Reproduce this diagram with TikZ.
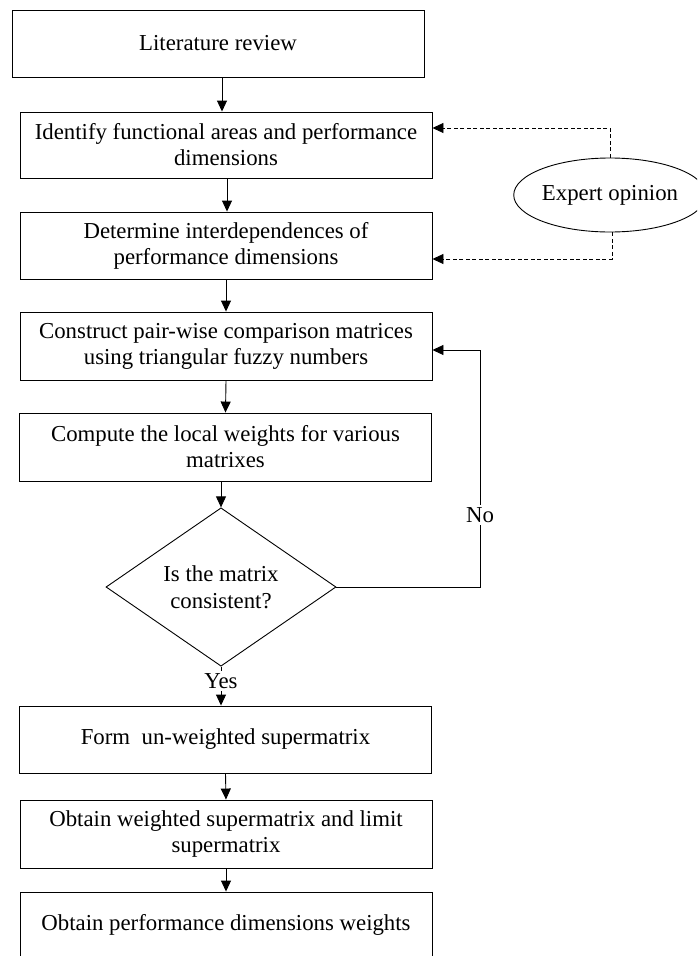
\documentclass[tikz,border=0pt]{standalone}
\usepackage{fontspec}
\setmainfont{Liberation Serif}
\usetikzlibrary{arrows.meta,shapes.geometric,calc}

\tikzset{
  stepbox/.style={draw, line width=0.9pt, minimum width=412pt, align=center,
    inner sep=0pt, font=\fontsize{22.8}{26}\selectfont},
  decision/.style={draw, line width=0.9pt, diamond, minimum width=230pt,
    minimum height=140pt, inner sep=0pt, align=center,
    font=\fontsize{22.8}{27}\selectfont},
  source/.style={draw, line width=0.9pt, ellipse, minimum width=176pt,
    minimum height=74pt, inner sep=0pt, font=\fontsize{22.8}{26}\selectfont},
  flow/.style={line width=0.9pt, -{Triangle[length=11pt,width=10pt]}},
  dflow/.style={flow, dash pattern=on 4pt off 2.5pt},
  lbl/.style={fill=white, inner sep=2pt, font=\fontsize{22.8}{26}\selectfont}
}

\begin{document}
\begin{tikzpicture}[x=1pt,y=-1pt]
  \useasboundingbox (0,0) rectangle (697,956);
  \clip (0,0) rectangle (697,956);

  % process steps
  \node[stepbox, minimum height=67pt] (b1) at (218,43.5) {Literature review};
  \node[stepbox, minimum height=66pt] (b2) at (226,145)
    {Identify functional areas and performance\\dimensions};
  \node[stepbox, minimum height=67pt] (b3) at (226,245.5)
    {Determine interdependences of\\performance dimensions};
  \node[stepbox, minimum height=68pt] (b4) at (226,346)
    {Construct pair-wise comparison matrices\\using triangular fuzzy numbers};
  \node[stepbox, minimum height=68pt] (b5) at (225.5,447)
    {Compute the local weights for various\\matrixes};
  \node[decision] (d) at (221,587) {Is the matrix\\consistent?};
  \node[stepbox, minimum height=67pt] (b6) at (225.5,739.5)
    {Form\ \ un-weighted supermatrix};
  \node[stepbox, minimum height=68pt] (b7) at (226,834)
    {Obtain weighted supermatrix and limit\\supermatrix};
  \node[stepbox, minimum height=66pt] (b8) at (226,925)
    {Obtain performance dimensions weights};

  % external input
  \node[source] (ex) at (610,195) {Expert opinion};

  % main flow
  \draw[flow] ([xshift=4pt]b1.south) -- ([xshift=4pt]b1.south |- b2.north);
  \draw[flow] ([xshift=1pt]b2.south) -- ([xshift=1pt]b2.south |- b3.north);
  \draw[flow] (b3.south) -- (b4.north);
  \draw[flow] (b4.south) -- (b5.north);
  \draw[flow] ([xshift=-4.5pt]b5.south) -- (d.north);
  \draw[flow] (d.south) -- (d.south |- b6.north);
  \draw[flow] (b6.south) -- (b7.north);
  \draw[flow] (b7.south) -- (b8.north);

  % expert opinion feeds two steps
  \draw[dflow] (ex.north) |- ([yshift=17pt]b2.east);
  \draw[dflow] ([xshift=2pt]ex.south) |- ([yshift=-13.5pt]b3.east);

  % consistency loop
  \coordinate (loop) at (480,587);
  \draw[flow] (d.east) -- (loop) |- ([yshift=-4pt]b4.east);

  % branch labels
  \node[lbl] (no) at (480,515) {No};
  \node[lbl] (yes) at (221,681) {Yes};
\end{tikzpicture}
\end{document}
